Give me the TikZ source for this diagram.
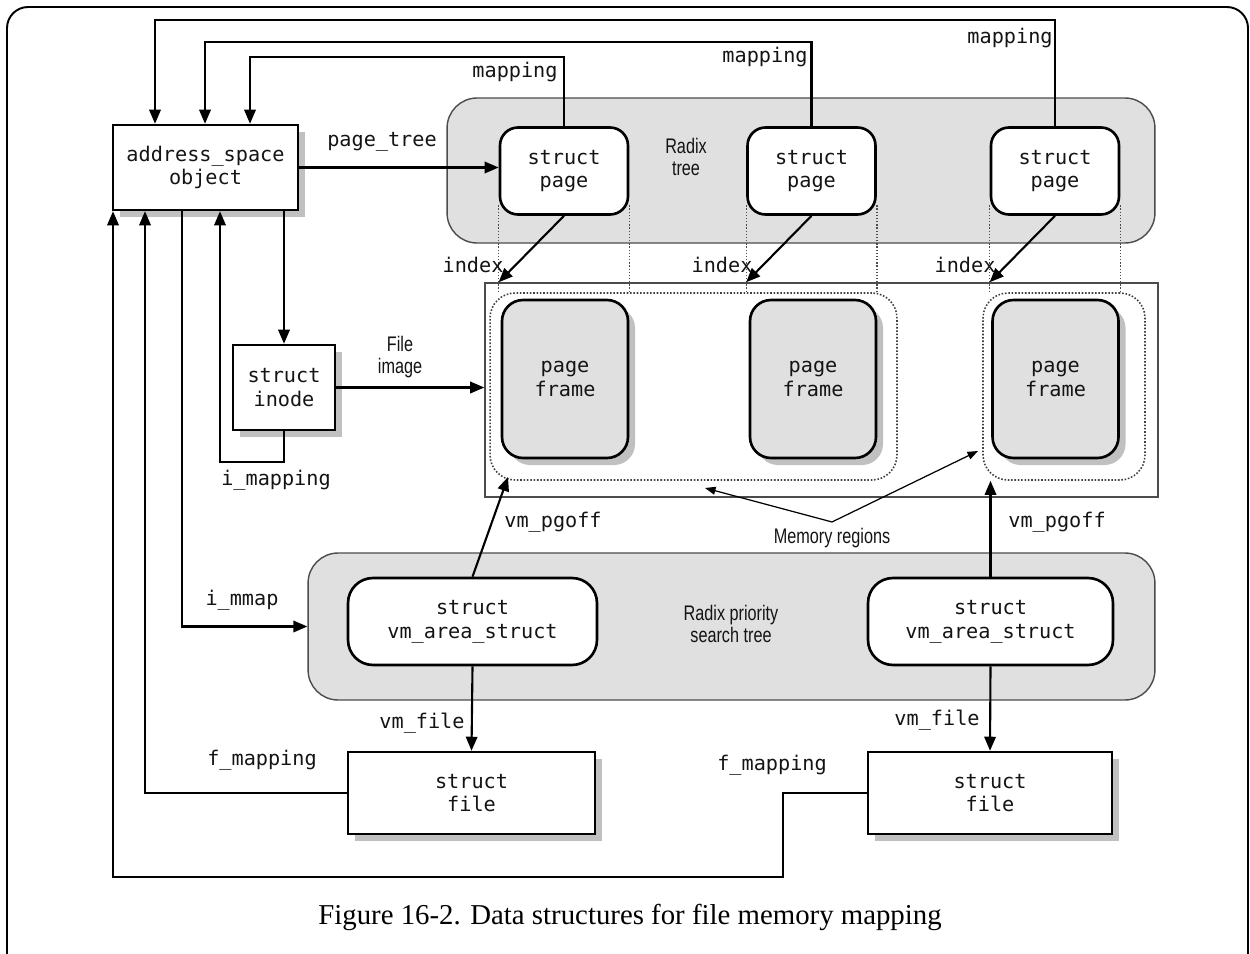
\documentclass[tikz,border=0pt]{standalone}
\usepackage{fontspec}
\usepackage{tikz}
\usetikzlibrary{arrows.meta,shadows}
\newfontfamily\codefont{DejaVu Sans Mono}
\newfontfamily\narrowfont[FakeStretch=0.77]{Liberation Sans}
\newfontfamily\capfont{Liberation Serif}

\begin{document}
\begin{tikzpicture}[x=0.02cm,y=-0.02cm,
  code/.style={font=\codefont\fontsize{11.5}{13.5}\selectfont,text=black!92,align=center},
  note/.style={font=\narrowfont\fontsize{12}{13}\selectfont,text=black!92,align=center},
  plainbox/.style={code,draw,line width=1.4pt,fill=white,
    drop shadow={shadow xshift=4pt,shadow yshift=-4pt,fill=black!55,opacity=.45}},
  roundbox/.style={code,draw,line width=1.5pt,fill=white,rounded corners=0.36cm},
  framebox/.style={code,draw,line width=1.5pt,fill=black!12,rounded corners=0.42cm,
    drop shadow={shadow xshift=4pt,shadow yshift=-4pt,fill=black!55,opacity=.45}},
  area/.style={draw=black!70,line width=0.8pt,fill=black!12,rounded corners=0.6cm},
  region/.style={draw=black!75,densely dotted,line width=0.9pt,rounded corners=0.5cm},
  guide/.style={draw=black!70,densely dotted,line width=0.8pt},
  arr/.style={line width=1.2pt,-{Triangle[length=8pt,width=6.5pt]}},
  thinarr/.style={line width=0.7pt,-{Triangle[length=6pt,width=4.5pt]}}]
 \useasboundingbox (0,0) rectangle (1250,953);
 \draw[line width=1.1pt,rounded corners=12pt] (7,960) -- (7,7) -- (1248,7) -- (1248,960);

 % gray areas and the page frame container
 \node[area,minimum width=14.16cm,minimum height=2.9cm] (rtree) at (801,170.5) {};
 \node[area,minimum width=16.94cm,minimum height=2.94cm] (rpst) at (731.5,626.5) {};
 \node[draw=black!70,line width=0.9pt,minimum width=13.46cm,minimum height=4.28cm] (pfbox) at (821.5,390) {};
 \node[region,minimum width=8.14cm,minimum height=3.74cm] (reg1) at (693.5,386.5) {};
 \node[region,minimum width=3.24cm,minimum height=3.74cm] (reg2) at (1064,386.5) {};
 \node[note] (rtreelbl) at (686,157) {Radix\\tree};
 \node[note] (rpstlbl) at (731,624) {Radix priority\\search tree};

 % struct pages
 \node[roundbox,minimum width=2.56cm,minimum height=1.74cm] (sp1) at (564,171) {struct\\page};
 \node[roundbox,minimum width=2.56cm,minimum height=1.74cm] (sp2) at (811.5,171) {struct\\page};
 \node[roundbox,minimum width=2.56cm,minimum height=1.74cm] (sp3) at (1055,171) {struct\\page};
 \foreach \p/\r in {sp1/reg1,sp2/reg1,sp3/reg2} {
  \draw[guide] ([yshift=6pt]\p.south west) -- (\p.south west |- \r.north);
  \draw[guide] ([yshift=6pt]\p.south east) -- (\p.south east |- \r.north);
 }

 % page frames
 \node[framebox,minimum width=2.52cm,minimum height=3.16cm] (pf1) at (565,379) {page\\frame};
 \node[framebox,minimum width=2.52cm,minimum height=3.16cm] (pf2) at (813,379) {page\\frame};
 \node[framebox,minimum width=2.52cm,minimum height=3.16cm] (pf3) at (1055.5,379) {page\\frame};

 \node[plainbox,minimum width=3.7cm,minimum height=1.7cm] (as) at (205.5,167.5) {address\_space\\object};
 \node[plainbox,minimum width=2.04cm,minimum height=1.7cm] (inode) at (284,387.5) {struct\\inode};
 \node[roundbox,rounded corners=0.5cm,minimum width=4.98cm,minimum height=1.74cm] (vma1) at (472.5,621.5) {struct\\vm\_area\_struct};
 \node[roundbox,rounded corners=0.5cm,minimum width=4.9cm,minimum height=1.74cm] (vma2) at (990.5,621.5) {struct\\vm\_area\_struct};
 \node[plainbox,minimum width=4.94cm,minimum height=1.64cm] (file1) at (471.5,793) {struct\\file};
 \node[plainbox,minimum width=4.88cm,minimum height=1.64cm] (file2) at (990,793) {struct\\file};

 % mapping back to the address space
 \draw[arr] (sp3.north) -- (sp3.north |- 0,20) -| (155,0 |- as.north);
 \draw[arr] (sp2.north) -- (sp2.north |- 0,42) -| (205,0 |- as.north);
 \draw[arr] (sp1.north) -- (sp1.north |- 0,57) -| (250,0 |- as.north);
 \node[code] (map1) at (515,72) {mapping};
 \node[code] (map2) at (765,57) {mapping};
 \node[code] (map3) at (1010,38) {mapping};

 \draw[arr] (as.east) -- (as.east -| sp1.west);
 \node[code] (ptree) at (382,142) {page\_tree};

 \draw[arr] (sp1.south) -- (sp1.south west |- pfbox.north);
 \draw[arr] (sp2.south) -- (sp2.south west |- pfbox.north);
 \draw[arr] (sp3.south) -- (sp3.south west |- pfbox.north);
 \node[code] (idx1) at (473,265) {index};
 \node[code] (idx2) at (722,265) {index};
 \node[code] (idx3) at (965,265) {index};

 \draw[arr] (inode.north |- as.south) -- (inode.north);
 \draw[arr] (inode.south) |- (220,462) -- (220,0 |- as.south);
 \node[code] (imap) at (276,480) {i\_mapping};
 \draw[arr] (inode.east) -- (inode.east -| pfbox.west);
 \node[note] (fimg) at (400,357) {File\\image};

 \node[note] (memreg) at (832,538) {Memory regions};
 \coordinate (mrL) at (705,488);
 \coordinate (mrR) at (978,451);
 \draw[thinarr] (memreg.north) -- (mrL);
 \draw[thinarr] (memreg.north) -- (mrR);

 \coordinate (pg1) at (508,477);
 \draw[arr] (vma1.north) -- (pg1);
 \draw[arr] (vma2.north) -- (vma2.north |- reg2.south);
 \node[code] (pgoff1) at (553,522) {vm\_pgoff};
 \node[code] (pgoff2) at (1057,522) {vm\_pgoff};

 \draw[arr] (182,0 |- as.south) |- (rpst.west);
 \node[code] (immap) at (242,600) {i\_mmap};

 \draw[arr] (vma1.south) -- (file1.north);
 \draw[arr] (vma2.south) -- (file2.north);
 \node[code] (vmf1) at (422,723) {vm\_file};
 \node[code] (vmf2) at (937,720) {vm\_file};

 \draw[arr] (file1.west) -| (145,0 |- as.south);
 \draw[arr] (file2.west) -- (783,0 |- file2.west) |- (113,877) -- (113,0 |- as.south);
 \node[code] (fmap1) at (262,760) {f\_mapping};
 \node[code] (fmap2) at (772,765) {f\_mapping};

 \node[font=\capfont\fontsize{16.4}{19}\selectfont] (cap) at (630,917) {Figure 16-2. Data structures for file memory mapping};
\end{tikzpicture}
\end{document}
